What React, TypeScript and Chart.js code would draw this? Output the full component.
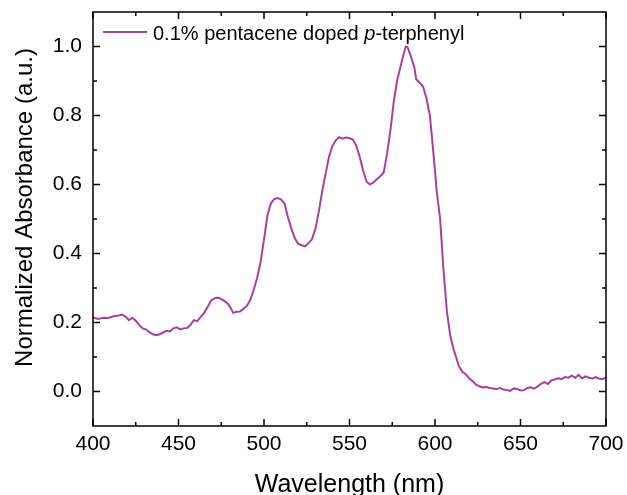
import React, { useEffect, useRef } from "react";
import { Chart, registerables } from "chart.js";

Chart.register(...registerables);

const wavelengths = [
  400, 403, 406, 409, 412, 415, 417, 419, 421, 423, 425, 427, 429, 431, 433, 435, 437, 439, 441, 443,
  445, 447, 449, 451, 453, 455, 457, 459, 461, 463, 465, 467, 469, 471, 473, 475, 477, 479, 481, 482,
  484, 486, 488, 490, 492, 494, 496, 498, 500, 502, 504, 506, 508, 510, 512, 514, 516, 518, 520, 522,
  524, 526, 528, 530, 532, 534, 536, 538, 540, 542, 544, 546, 548, 550, 552, 554, 556, 558, 560, 562,
  564, 566, 568, 570, 572, 574, 576, 578, 580, 582, 583, 584, 586, 588, 589, 591, 593, 595, 597, 598,
  600, 601, 603, 605, 607, 609, 611, 612, 614, 616, 618, 620, 622, 624, 626, 628, 630, 632, 634, 636,
  638, 640, 642, 644, 646, 648, 650, 652, 654, 656, 658, 660, 662, 664, 666, 668, 670, 672, 674, 676,
  678, 680, 682, 684, 686, 688, 690, 692, 694, 696, 698, 700,
];

const absorbance = [
  0.215, 0.21, 0.214, 0.213, 0.218, 0.22, 0.223, 0.217, 0.207, 0.214, 0.205, 0.193, 0.183, 0.18, 0.172, 0.166, 0.163, 0.166, 0.171, 0.176,
  0.174, 0.183, 0.186, 0.18, 0.183, 0.184, 0.193, 0.207, 0.204, 0.216, 0.228, 0.245, 0.263, 0.27, 0.272, 0.268, 0.262, 0.254, 0.238, 0.228,
  0.231, 0.232, 0.24, 0.248, 0.266, 0.295, 0.33, 0.375, 0.44, 0.51, 0.545, 0.558, 0.561, 0.556, 0.545, 0.505, 0.472, 0.445, 0.428, 0.424,
  0.421, 0.43, 0.441, 0.47, 0.52, 0.58, 0.63, 0.68, 0.712, 0.728, 0.737, 0.733, 0.736, 0.734, 0.73, 0.712, 0.68, 0.64, 0.608, 0.6,
  0.606, 0.615, 0.624, 0.635, 0.69, 0.76, 0.845, 0.905, 0.945, 0.985, 1.0, 0.998, 0.97, 0.938, 0.905, 0.895, 0.884, 0.85, 0.8, 0.748,
  0.64, 0.58, 0.5, 0.35, 0.23, 0.16, 0.12, 0.105, 0.073, 0.057, 0.05, 0.038, 0.03, 0.02, 0.015, 0.012, 0.013, 0.01, 0.009, 0.007,
  0.01, 0.006, 0.004, 0.002, 0.009, 0.007, 0.003, 0.004, 0.01, 0.012, 0.008, 0.015, 0.022, 0.027, 0.022, 0.032, 0.035, 0.038, 0.036, 0.042,
  0.04, 0.046, 0.04, 0.048, 0.038, 0.044, 0.04, 0.038, 0.042, 0.037, 0.036, 0.04,
];

const xMajorTicks = [400, 450, 500, 550, 600, 650, 700];
const xMinorTicks = [425, 475, 525, 575, 625, 675];
const yMajorTicks = [0.0, 0.2, 0.4, 0.6, 0.8, 1.0];
const yMinorTicks = [0.1, 0.3, 0.5, 0.7, 0.9];

const seriesLabel = "0.1% pentacene doped p-terphenyl";
const lineColor = "#A8409F";
const fontFamily = "'Liberation Sans', Arial, sans-serif";

const framePlugin = {
  id: "framePlugin",
  afterDraw(chart: any) {
    const { ctx, chartArea } = chart;
    const { left, right, top, bottom } = chartArea;
    const xs = chart.scales.x;
    const ys = chart.scales.y;
    ctx.save();
    ctx.strokeStyle = "#000";
    ctx.lineWidth = 1.5;
    ctx.beginPath();
    const tick = (x1: number, y1: number, x2: number, y2: number) => {
      ctx.moveTo(x1, y1);
      ctx.lineTo(x2, y2);
    };
    const maj = 7;
    const min = 4;
    xMajorTicks.forEach((v) => {
      const px = xs.getPixelForValue(v);
      tick(px, bottom, px, bottom - maj);
      tick(px, top, px, top + maj);
    });
    xMinorTicks.forEach((v) => {
      const px = xs.getPixelForValue(v);
      tick(px, bottom, px, bottom - min);
      tick(px, top, px, top + min);
    });
    yMajorTicks.forEach((v) => {
      const py = ys.getPixelForValue(v);
      tick(left, py, left + maj, py);
      tick(right, py, right - maj, py);
    });
    yMinorTicks.forEach((v) => {
      const py = ys.getPixelForValue(v);
      tick(left, py, left + min, py);
      tick(right, py, right - min, py);
    });
    ctx.stroke();
    ctx.strokeRect(left, top, right - left, bottom - top);

    // Legend
    ctx.strokeStyle = lineColor;
    ctx.lineWidth = 2;
    ctx.beginPath();
    ctx.moveTo(103, 32);
    ctx.lineTo(147, 32);
    ctx.stroke();
    ctx.fillStyle = "#000";
    ctx.textAlign = "left";
    ctx.textBaseline = "alphabetic";
    const parts = [
      { t: "0.1% pentacene doped ", italic: false },
      { t: "p", italic: true },
      { t: "-terphenyl", italic: false },
    ];
    let x = 153;
    parts.forEach((p) => {
      ctx.font = (p.italic ? "italic " : "") + "20px " + fontFamily;
      ctx.fillText(p.t, x, 39.5);
      x += ctx.measureText(p.t).width;
    });

    // Axis titles
    ctx.font = "25px " + fontFamily;
    ctx.textAlign = "center";
    ctx.fillText("Wavelength (nm)", (left + right) / 2, 491.5);
    ctx.save();
    ctx.translate(32, 207.5);
    ctx.rotate(-Math.PI / 2);
    ctx.font = "24px " + fontFamily;
    ctx.fillText("Normalized Absorbance (a.u.)", 0, 0);
    ctx.restore();
    ctx.restore();
  },
};

const zeroPad = (s: any) => {
  s.paddingTop = 0;
  s.paddingBottom = 0;
  s.paddingLeft = 0;
  s.paddingRight = 0;
};

export default function App() {
  const ref = useRef<HTMLCanvasElement | null>(null);
  useEffect(() => {
    if (!ref.current) return;
    const points = wavelengths.map((w, i) => ({ x: w, y: absorbance[i] }));
    const chart = new Chart(ref.current, {
      type: "line",
      data: {
        datasets: [
          {
            label: seriesLabel,
            data: points,
            borderColor: lineColor,
            borderWidth: 2,
            pointRadius: 0,
            tension: 0,
            fill: false,
          },
        ],
      },
      options: {
        responsive: false,
        animation: false,
        layout: { padding: { top: 12, right: 21, left: 0, bottom: 0 } },
        plugins: { legend: { display: false }, tooltip: { enabled: false } },
        scales: {
          x: {
            type: "linear",
            min: 400,
            max: 700,
            grid: { display: false, drawTicks: false },
            border: { display: false },
            afterBuildTicks: (s: any) => {
              s.ticks = xMajorTicks.map((v) => ({ value: v }));
            },
            afterFit: (s: any) => {
              s.height = 69;
              zeroPad(s);
            },
            ticks: {
              padding: 6,
              color: "#000",
              maxRotation: 0,
              autoSkip: false,
              font: { family: fontFamily, size: 21 },
              callback: (v: any) => String(v),
            },
          },
          y: {
            type: "linear",
            min: -0.1,
            max: 1.1,
            grid: { display: false, drawTicks: false },
            border: { display: false },
            afterBuildTicks: (s: any) => {
              s.ticks = yMajorTicks.map((v) => ({ value: v }));
            },
            afterFit: (s: any) => {
              s.width = 93;
              zeroPad(s);
            },
            ticks: {
              padding: 11,
              color: "#000",
              autoSkip: false,
              font: { family: fontFamily, size: 21 },
              callback: (v: any) => Number(v).toFixed(1),
            },
          },
        },
      },
      plugins: [framePlugin],
    });
    return () => chart.destroy();
  }, []);
  return (
    <div style={{ position: "fixed", left: 0, top: 0, width: 627, height: 495, background: "#fff" }}>
      <canvas ref={ref} width={627} height={495} style={{ width: 627, height: 495, display: "block" }} />
    </div>
  );
}
